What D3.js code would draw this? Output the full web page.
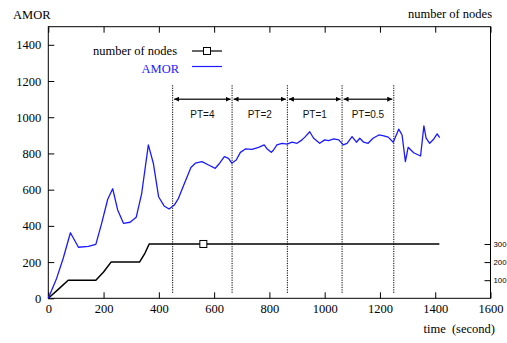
<!DOCTYPE html>
<html>
<head>
<meta charset="utf-8">
<script src="https://cdn.jsdelivr.net/npm/d3@7"></script>
<style>
  html, body { margin: 0; padding: 0; background: #fff; overflow: hidden; }
  svg { display: block; }
</style>
</head>
<body>
<svg id="chart" width="507" height="343"></svg>
<script>
// ---- data ----
const xTicks = [0, 200, 400, 600, 800, 1000, 1200, 1400, 1600];
const yTicks = [0, 200, 400, 600, 800, 1000, 1200, 1400];
const rightTicks = [100, 200, 300];

const amorTime = [0, 30, 54, 80, 109, 145, 172, 193, 215, 233, 251, 272, 296, 318, 338, 362, 380, 399, 419, 437, 456, 471, 495, 516, 532, 556, 580, 604, 620, 637, 652, 664, 680, 695, 713, 737, 761, 781, 793, 807, 815, 827, 846, 864, 882, 900, 918, 930, 946, 960, 982, 1000, 1014, 1033, 1051, 1067, 1081, 1099, 1115, 1127, 1141, 1157, 1175, 1196, 1214, 1230, 1248, 1268, 1280, 1292, 1302, 1322, 1347, 1359, 1367, 1380, 1395, 1407, 1416];
const amorValue = [0, 110, 221, 362, 282, 287, 298, 414, 547, 605, 488, 414, 420, 447, 580, 847, 746, 561, 510, 493, 515, 552, 644, 722, 746, 755, 736, 718, 746, 782, 773, 746, 764, 806, 825, 823, 834, 847, 823, 806, 819, 847, 856, 852, 862, 856, 875, 893, 920, 884, 856, 875, 871, 880, 875, 847, 856, 893, 862, 884, 862, 856, 884, 902, 897, 890, 862, 934, 902, 755, 834, 804, 786, 952, 884, 856, 880, 908, 887];

const nodesTime = [0, 40, 72, 172, 200, 227, 330, 350, 365, 1415];
const nodesValue = [0, 55, 100, 100, 145, 200, 200, 250, 300, 300];
const nodesMarkerTime = [561];
const nodesMarkerValue = [300];

const phaseBounds = [450, 665, 865, 1063, 1250];
const phaseLabels = ["PT=4", "PT=2", "PT=1", "PT=0.5"];
const phaseLineRange = [30, 1180];
const arrowLevel = 1100;

// ---- layout ----
const svg = d3.select("#chart");
const L = 48.3, R = 490.5, T = 26.7, B = 298.3;
const x = d3.scaleLinear().domain([0, 1600]).range([L, R]);
const y = d3.scaleLinear().domain([0, 1500]).range([B, T]);
const serif = "'Liberation Serif', 'DejaVu Serif', serif";
const sans = "'Liberation Sans', Arial, sans-serif";

svg.append("defs").append("marker")
  .attr("id", "ah").attr("viewBox", "0 0 10 10")
  .attr("refX", 10).attr("refY", 5)
  .attr("markerWidth", 5).attr("markerHeight", 5)
  .attr("markerUnits", "userSpaceOnUse")
  .attr("orient", "auto-start-reverse")
  .append("path").attr("d", "M0,0L10,5L0,10Z").attr("fill", "#000");

// axes
function styleAxis(g, font, size) {
  g.select(".domain").remove();
  g.selectAll("line").attr("stroke", "#000").attr("stroke-width", 1);
  g.selectAll("text").attr("font-family", font).attr("font-size", size).attr("fill", "#000");
}
svg.append("g").attr("transform", `translate(0,${B})`)
  .call(d3.axisBottom(x).tickValues(xTicks).tickFormat(d3.format("d")).tickSizeInner(-6).tickSizeOuter(0).tickPadding(6))
  .call(g => styleAxis(g, serif, 12.5));
svg.append("g").attr("transform", `translate(0,${T})`)
  .call(d3.axisTop(x).tickValues(xTicks).tickFormat("").tickSizeInner(-6).tickSizeOuter(0))
  .call(g => styleAxis(g, serif, 12.5));
svg.append("g").attr("transform", `translate(${L},0)`)
  .call(d3.axisLeft(y).tickValues(yTicks).tickFormat(d3.format("d")).tickSizeInner(-6).tickSizeOuter(0).tickPadding(7))
  .call(g => styleAxis(g, serif, 12.5));
svg.append("g").attr("transform", `translate(${R},0)`)
  .call(d3.axisRight(y).tickValues(rightTicks).tickFormat(d3.format("d")).tickSizeInner(-6).tickSizeOuter(0).tickPadding(3))
  .call(g => styleAxis(g, sans, 7.8));

// frame
svg.append("rect").attr("x", L).attr("y", T).attr("width", R - L).attr("height", B - T)
  .attr("fill", "none").attr("stroke", "#000").attr("stroke-width", 1);

// phase dividers
svg.selectAll(".phase").data(phaseBounds).join("line")
  .attr("x1", d => x(d)).attr("x2", d => x(d))
  .attr("y1", y(phaseLineRange[0])).attr("y2", y(phaseLineRange[1]))
  .attr("stroke", "#000").attr("stroke-width", 1).attr("stroke-dasharray", "1.2,1.2");

// arrows + labels
const phases = phaseLabels.map((lab, i) => ({ lab, a: phaseBounds[i], b: phaseBounds[i + 1] }));
svg.selectAll(".arr").data(phases).join("line")
  .attr("x1", d => x(d.a) + 1.5).attr("x2", d => x(d.b) - 1.5)
  .attr("y1", y(arrowLevel)).attr("y2", y(arrowLevel))
  .attr("stroke", "#333").attr("stroke-width", 1.5)
  .attr("marker-start", "url(#ah)").attr("marker-end", "url(#ah)");
svg.selectAll(".plab").data(phases).join("text")
  .attr("x", d => (x(d.a) + x(d.b)) / 2).attr("y", y(arrowLevel) + 18.5)
  .attr("text-anchor", "middle").attr("font-family", sans).attr("font-size", 10)
  .attr("fill", "#111").text(d => d.lab);

// series
const amor = amorTime.map((t, i) => [t, amorValue[i]]);
const nodes = nodesTime.map((t, i) => [t, nodesValue[i]]);
const line = d3.line().x(d => x(d[0])).y(d => y(d[1]));
svg.append("path").datum(nodes).attr("d", line)
  .attr("fill", "none").attr("stroke", "#000").attr("stroke-width", 1.5).attr("stroke-linejoin", "round");
svg.selectAll(".nm").data(nodesMarkerTime.map((t, i) => [t, nodesMarkerValue[i]])).join("rect")
  .attr("x", d => x(d[0]) - 3.5).attr("y", d => y(d[1]) - 3.5).attr("width", 7).attr("height", 7)
  .attr("fill", "#fff").attr("stroke", "#000").attr("stroke-width", 1);
svg.append("path").datum(amor).attr("d", line)
  .attr("fill", "none").attr("stroke", "#1a1aff").attr("stroke-width", 1.3).attr("stroke-linejoin", "round");

// legend
const lg = svg.append("g");
lg.append("text").attr("x", 177).attr("y", 55).attr("text-anchor", "end")
  .attr("font-family", serif).attr("font-size", 12.5).attr("fill", "#000").text("number of nodes");
lg.append("line").attr("x1", 192).attr("x2", 222).attr("y1", 51).attr("y2", 51)
  .attr("stroke", "#000").attr("stroke-width", 1.2);
lg.append("rect").attr("x", 207 - 3.5).attr("y", 51 - 3.5).attr("width", 7).attr("height", 7)
  .attr("fill", "#fff").attr("stroke", "#000").attr("stroke-width", 1);
lg.append("text").attr("x", 179).attr("y", 73).attr("text-anchor", "end")
  .attr("font-family", serif).attr("font-size", 12.5).attr("fill", "#1a1aff").text("AMOR");
lg.append("line").attr("x1", 192).attr("x2", 222).attr("y1", 66.5).attr("y2", 66.5)
  .attr("stroke", "#1a1aff").attr("stroke-width", 1.2);

// titles
svg.append("text").attr("x", 13).attr("y", 19).attr("font-family", serif).attr("font-size", 12.5)
  .attr("fill", "#000").text("AMOR");
svg.append("text").attr("x", 492).attr("y", 18).attr("text-anchor", "end").attr("font-family", serif)
  .attr("font-size", 12.5).attr("fill", "#000").text("number of nodes");
svg.append("text").attr("x", 495).attr("y", 333).attr("text-anchor", "end").attr("font-family", serif)
  .attr("font-size", 12.5).attr("fill", "#000").attr("xml:space", "preserve").text("time  (second)");
</script>
</body>
</html>
